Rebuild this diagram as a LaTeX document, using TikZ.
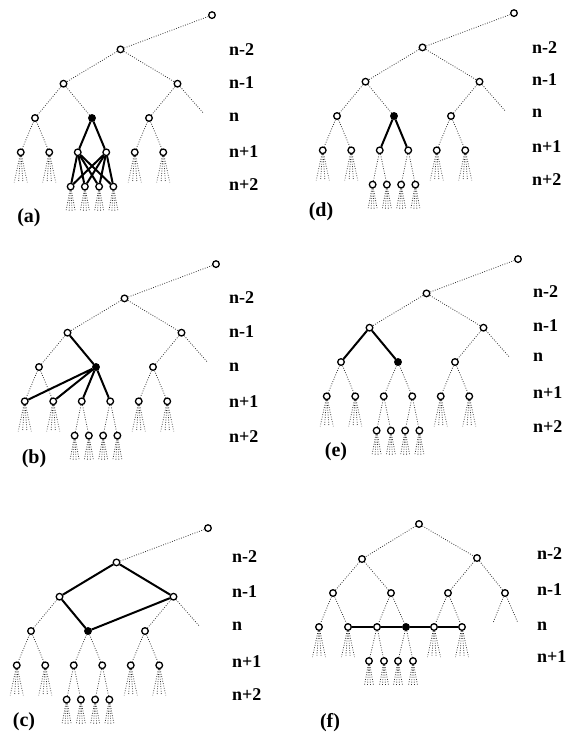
\documentclass[tikz,border=0pt]{standalone}
\usepackage{fontspec}
\setmainfont{Liberation Serif}
\usetikzlibrary{calc}
\tikzset{
 tn/.style={circle,draw,line width=1.3pt,fill=white,inner sep=0pt,minimum size=6.6pt},
 fn/.style={circle,fill=black,draw,line width=0.8pt,inner sep=0pt,minimum size=7pt},
 dotline/.style={black!80,line width=0.8pt,dash pattern=on 0.8pt off 1.6pt},
 thk/.style={line width=2pt},
 lev/.style={anchor=west,inner sep=0pt,font=\fontsize{18}{20}\selectfont\bfseries},
 plab/.style={inner sep=0pt,font=\fontsize{20}{22}\selectfont\bfseries},
}
\newcommand\bigfan[1]{\foreach \d [count=\i] in {-6.5,-2.2,2.2,6.5}{\path (#1) ++(\d pt,-30pt) coordinate (#1-l\i); \draw[dotline] (#1) -- (#1-l\i);}}
\newcommand\smallfan[1]{\foreach \d [count=\i] in {-4.5,-1.5,1.5,4.5}{\path (#1) ++(\d pt,-24pt) coordinate (#1-l\i); \draw[dotline] (#1) -- (#1-l\i);}}
\newcommand\gtree[3]{%
\begin{scope}[shift={(#2,#3)},x=28.5pt,y=-34.3pt]
 \node[tn] (#1r) at (4.21,-3) {};
 \node[tn] (#1m2) at (1,-2) {};
 \node[tn] (#1m1L) at (-1,-1) {};
 \node[tn] (#1m1R) at (3,-1) {};
 \coordinate (#1e) at (3.9,-0.15);
 \node[tn] (#1nL) at (-2,0) {};
 \node[fn] (#1F) at (0,0) {};
 \node[tn] (#1nR) at (2,0) {};
 \foreach \k/\xx in {1/-2.5,2/-1.5,3/-0.5,4/0.5,5/1.5,6/2.5} {\node[tn] (#1c\k) at (\xx,1) {};}
 \foreach \k/\xx in {1/-0.75,2/-0.25,3/0.25,4/0.75} {\node[tn] (#1g\k) at (\xx,2) {};}
 \foreach \a/\b in {r/m2,m2/m1L,m2/m1R,m1R/e,m1L/nL,m1L/F,m1R/nR,nL/c1,nL/c2,F/c3,F/c4,nR/c5,nR/c6,c3/g1,c3/g2,c4/g3,c4/g4} {\draw[dotline] (#1\a) -- (#1\b);}
 \foreach \k in {c1,c2,c5,c6} {\bigfan{#1\k}}
 \foreach \k in {g1,g2,g3,g4} {\smallfan{#1\k}}
\end{scope}}
\begin{document}
\begin{tikzpicture}[x=1pt,y=-1pt]
\useasboundingbox (0,0) rectangle (573,740);
\gtree{a}{92}{118}
\gtree{b}{96}{367}
\gtree{c}{88}{631}
\gtree{d}{394}{116}
\gtree{e}{398}{362}
% thick overlays
\draw[thk] (aF) -- (ac3) (aF) -- (ac4);
\foreach \c in {ac3,ac4} {\foreach \g in {ag1,ag2,ag3,ag4} {\draw[thk] (\c) -- (\g);}}
\draw[thk] (bF) -- (bm1L) (bF) -- (bc1) (bF) -- (bc2) (bF) -- (bc3) (bF) -- (bc4);
\draw[thk] (cm2) -- (cm1L) (cm2) -- (cm1R) (cm1L) -- (cF) (cm1R) -- (cF);
\draw[thk] (dF) -- (dc3) (dF) -- (dc4);
\draw[thk] (em1L) -- (enL) (em1L) -- (eF);
% panel f
\node[tn] (fr) at (419,524) {};
\node[tn] (fA) at (362,559) {};
\node[tn] (fB) at (477,558) {};
\foreach \k/\xx in {1/333,2/391,3/448,4/505} {\node[tn] (fm\k) at (\xx,593) {};}
\foreach \k/\xx in {1/319,2/348,3/377,5/434,6/462} {\node[tn] (fn\k) at (\xx,627) {};}
\node[fn] (fn4) at (406,627) {};
\foreach \k/\xx in {1/369,2/384,3/398,4/413} {\node[tn] (fg\k) at (\xx,661) {};}
\coordinate (fe1) at (493,623);
\coordinate (fe2) at (518,623);
\foreach \a/\b in {r/A,r/B,A/m1,A/m2,B/m3,B/m4,m1/n1,m1/n2,m2/n3,m2/n4,m3/n5,m3/n6,n3/g1,n3/g2,n4/g3,n4/g4,m4/e1,m4/e2} {\draw[dotline] (f\a) -- (f\b);}
\foreach \k in {fn1,fn2,fn5,fn6} {\bigfan{\k}}
\foreach \k in {fg1,fg2,fg3,fg4} {\smallfan{\k}}
\draw[thk] (fn2) -- (fn3) (fn3) -- (fn4) (fn4) -- (fn5) (fn5) -- (fn6);
% level labels
\foreach \p/\xx/\ya/\yb/\yc/\yd/\ye in {a/229/50/83/117/152/185, b/229/298/332/367/402/437, c/232/557/592/626/662/695, d/532/48/80/113/147/180, e/533/292/326/357/393/427} {
 \node[lev] (\p L1) at (\xx,\ya) {n-2};
 \node[lev] (\p L2) at (\xx,\yb) {n-1};
 \node[lev] (\p L3) at (\xx,\yc) {n};
 \node[lev] (\p L4) at (\xx,\yd) {n+1};
 \node[lev] (\p L5) at (\xx,\ye) {n+2};
}
\node[lev] (fL1) at (537,554) {n-2};
\node[lev] (fL2) at (537,590) {n-1};
\node[lev] (fL3) at (537,626) {n};
\node[lev] (fL4) at (537,657) {n+1};
% panel letters
\node[plab] (pa) at (29,218) {(a)};
\node[plab] (pb) at (34,459) {(b)};
\node[plab] (pc) at (24,722) {(c)};
\node[plab] (pd) at (321,212) {(d)};
\node[plab] (pe) at (336,452) {(e)};
\node[plab] (pf) at (330,723) {(f)};
\end{tikzpicture}
\end{document}
